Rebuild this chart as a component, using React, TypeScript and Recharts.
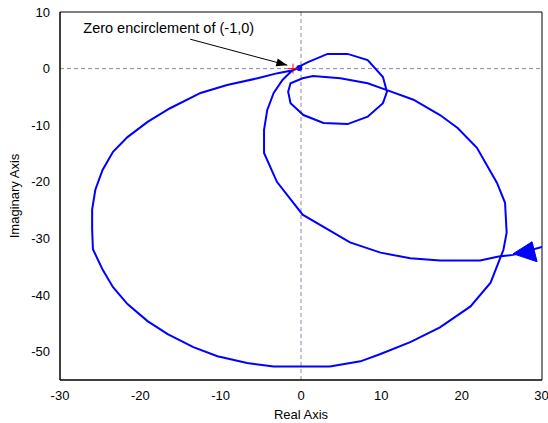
import React from 'react';
import { ScatterChart, Scatter, XAxis, YAxis, ReferenceLine } from 'recharts';

const xTicks = [-30, -20, -10, 0, 10, 20, 30];
const yTicks = [-50, -40, -30, -20, -10, 0, 10];

// branch coming in from the right edge, up to the origin
const lowerBranch = [
  { x: 30.0, y: -31.5 }, { x: 26.4, y: -32.9 }, { x: 24.6, y: -33.2 }, { x: 22.3, y: -33.9 },
  { x: 17.3, y: -33.9 }, { x: 13.6, y: -33.5 }, { x: 9.9, y: -32.5 }, { x: 6.1, y: -30.7 },
  { x: 0.2, y: -25.8 }, { x: -3.0, y: -20.0 }, { x: -4.6, y: -14.9 }, { x: -4.6, y: -10.8 },
  { x: -4.2, y: -7.3 }, { x: -3.4, y: -4.3 }, { x: -2.3, y: -2.0 }, { x: -1.3, y: -0.6 },
  { x: -0.3, y: 0.3 },
];

// small loop around the origin
const smallLoop = [
  { x: 0.8, y: 1.1 }, { x: 3.3, y: 2.6 }, { x: 5.8, y: 2.6 }, { x: 8.3, y: 1.5 },
  { x: 10.2, y: -1.5 }, { x: 10.7, y: -4.1 }, { x: 10.2, y: -6.1 }, { x: 8.3, y: -8.5 },
  { x: 5.8, y: -9.8 }, { x: 2.8, y: -9.6 }, { x: 0.3, y: -8.2 }, { x: -1.3, y: -6.1 },
  { x: -1.6, y: -4.1 }, { x: -1.3, y: -2.6 }, { x: 0.2, y: -1.7 }, { x: 1.5, y: -1.3 },
  { x: 4.9, y: -1.7 }, { x: 8.3, y: -2.6 }, { x: 10.7, y: -3.8 },
];

// big outer loop, ending back near (-1,0)
const outerLoop = [
  { x: 14.0, y: -5.5 }, { x: 17.3, y: -8.2 }, { x: 19.5, y: -10.5 }, { x: 21.9, y: -14.0 },
  { x: 24.4, y: -20.2 }, { x: 25.4, y: -23.7 }, { x: 25.6, y: -29.0 }, { x: 25.2, y: -32.0 },
  { x: 23.6, y: -37.8 }, { x: 21.1, y: -42.0 }, { x: 17.3, y: -45.7 }, { x: 13.6, y: -48.3 },
  { x: 9.9, y: -50.4 }, { x: 7.4, y: -51.7 }, { x: 3.6, y: -52.6 }, { x: -3.4, y: -52.6 },
  { x: -6.7, y: -52.0 }, { x: -10.4, y: -50.8 }, { x: -13.4, y: -49.2 }, { x: -16.6, y: -46.9 },
  { x: -19.1, y: -44.6 }, { x: -21.6, y: -41.6 }, { x: -23.4, y: -38.6 }, { x: -24.7, y: -35.5 },
  { x: -25.9, y: -31.9 }, { x: -26.0, y: -28.4 }, { x: -26.0, y: -24.9 }, { x: -25.6, y: -21.4 },
  { x: -24.7, y: -17.9 }, { x: -23.4, y: -14.7 }, { x: -21.6, y: -12.1 }, { x: -19.1, y: -9.4 },
  { x: -16.3, y: -7.0 }, { x: -12.5, y: -4.3 }, { x: -9.2, y: -2.9 }, { x: -5.4, y: -1.7 },
  { x: -2.9, y: -0.8 }, { x: -1.0, y: -0.3 }, { x: -0.2, y: 0.2 },
];

const nyquist = [...lowerBranch, ...smallLoop, ...outerLoop];

const directionArrow = [{ x: 26.4, y: -32.7 }];
const criticalPoint = [{ x: -1, y: 0 }];
const originDot = [{ x: -0.2, y: 0.1 }];
const annotationLine = [{ x: -13.8, y: 5.2 }, { x: -1.7, y: 0.6 }];
const annotationTip = [{ x: -1.7, y: 0.6 }];
const annotationText = [{ x: -27.1, y: 6.3, text: 'Zero encirclement of (-1,0)' }];

const FONT = '"Liberation Sans", Arial, sans-serif';
const tickFont = { fontSize: 13, fill: '#000', fontFamily: FONT };

const Hidden = () => <g />;

const BlueArrow = (p: any) => (
  <polygon
    points={`${p.cx},${p.cy} ${p.cx + 19},${p.cy - 12} ${p.cx + 24},${p.cy + 8}`}
    fill="#0000ff"
    stroke="#0000ff"
  />
);

const RedCross = (p: any) => (
  <path d={`M${p.cx - 5},${p.cy}h10M${p.cx},${p.cy - 5}v10`} stroke="#ff0000" strokeWidth={1} />
);

const BlueDot = (p: any) => <circle cx={p.cx} cy={p.cy} r={3} fill="#0000ff" />;

const BlackTip = (p: any) => (
  <polygon
    points={`${p.cx},${p.cy} ${p.cx - 11},${p.cy - 4} ${p.cx - 11},${p.cy + 4}`}
    transform={`rotate(15 ${p.cx} ${p.cy})`}
    fill="#000"
  />
);

const NoteText = (p: any) => (
  <text x={p.cx} y={p.cy} fontSize={14.5} fontFamily={FONT} fill="#000">
    {p.payload.text}
  </text>
);

// inward tick marks on all four sides (box axes, no labels)
const boxX = (id: string, orientation: 'top' | 'bottom') => (
  <XAxis
    xAxisId={id}
    orientation={orientation}
    mirror
    type="number"
    dataKey="x"
    domain={[-30, 30]}
    ticks={xTicks}
    allowDataOverflow
    height={1}
    stroke="#000"
    tickSize={5}
    tick={false}
  />
);
const boxY = (id: string, orientation: 'left' | 'right') => (
  <YAxis
    yAxisId={id}
    orientation={orientation}
    mirror
    type="number"
    dataKey="y"
    domain={[-55, 10]}
    ticks={yTicks}
    allowDataOverflow
    width={1}
    stroke="#000"
    tickSize={5}
    tick={false}
  />
);

export default function App() {
  return (
    <div style={{ position: 'absolute', left: 0, top: 0, background: '#fff', fontFamily: FONT }}>
      <ScatterChart width={548} height={423} margin={{ top: 12, right: 6, bottom: 0, left: 0 }}>
        <XAxis
          type="number"
          dataKey="x"
          domain={[-30, 30]}
          ticks={xTicks}
          allowDataOverflow
          height={43}
          stroke="#000"
          tickLine={false}
          tickMargin={5}
          tick={tickFont}
          label={{ value: 'Real Axis', position: 'insideBottom', offset: 4, ...tickFont }}
        />
        <YAxis
          type="number"
          dataKey="y"
          domain={[-55, 10]}
          ticks={yTicks}
          allowDataOverflow
          width={60}
          stroke="#000"
          tickLine={false}
          tickMargin={4}
          tick={tickFont}
          label={{
            value: 'Imaginary Axis',
            angle: -90,
            position: 'insideLeft',
            offset: 14,
            ...tickFont,
            style: { textAnchor: 'middle' },
          }}
        />
        {boxX('bx', 'bottom')}
        {boxX('tx', 'top')}
        {boxY('ly', 'left')}
        {boxY('ry', 'right')}
        <ReferenceLine x={0} stroke="#8a8aa8" strokeDasharray="4 3" />
        <ReferenceLine y={0} stroke="#8a8aa8" strokeDasharray="4 3" />
        <Scatter
          data={nyquist}
          line={{ stroke: '#0000ff', strokeWidth: 2 }}
          shape={Hidden}
          isAnimationActive={false}
        />
        <Scatter data={directionArrow} shape={BlueArrow} isAnimationActive={false} />
        <Scatter data={originDot} shape={BlueDot} isAnimationActive={false} />
        <Scatter data={criticalPoint} shape={RedCross} isAnimationActive={false} />
        <Scatter
          data={annotationLine}
          line={{ stroke: '#000', strokeWidth: 1 }}
          shape={Hidden}
          isAnimationActive={false}
        />
        <Scatter data={annotationTip} shape={BlackTip} isAnimationActive={false} />
        <Scatter data={annotationText} shape={NoteText} isAnimationActive={false} />
      </ScatterChart>
    </div>
  );
}
